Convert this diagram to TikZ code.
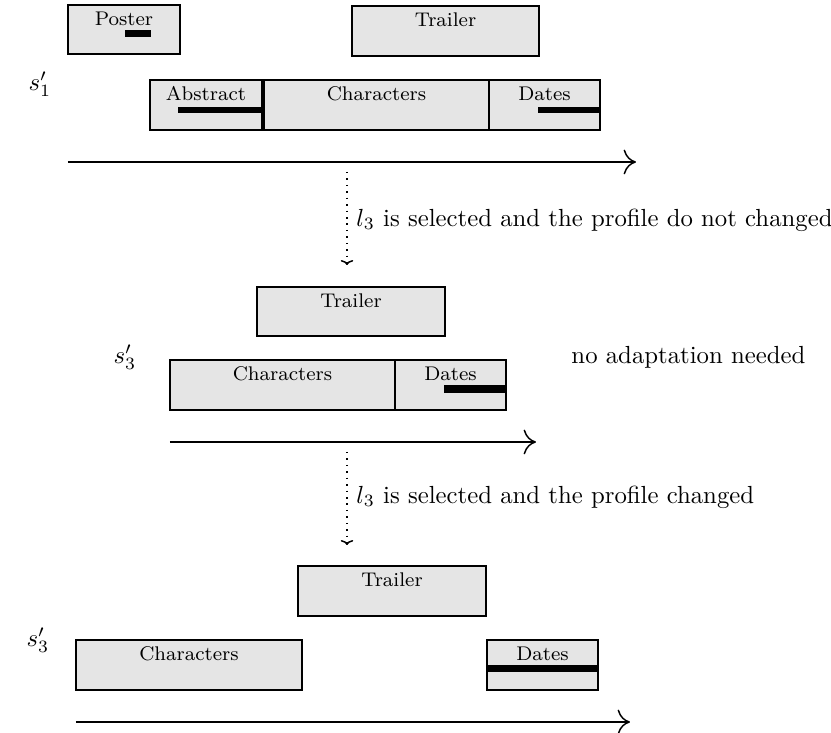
\documentclass[tikz,border=0pt]{standalone}
\usetikzlibrary{arrows.meta}
\newlength\pxu
\setlength\pxu{0.404pt}
\definecolor{boxfill}{gray}{0.9}
\tikzset{
  seg/.style={draw=black, thick, fill=boxfill, anchor=north west, inner sep=0pt, outer sep=0pt},
  lbl/.style={anchor=north, inner sep=2.5pt, font=\footnotesize},
  bar/.style={fill=black},
  axis/.style={semithick, -{To[length=5pt,width=10pt]}},
  step arrow/.style={dotted, semithick, -{To[length=2pt,width=5pt]}},
  note/.style={anchor=west, inner sep=0pt}
}
\begin{document}
\begin{tikzpicture}[x=\pxu, y=-\pxu]
\useasboundingbox (0,0) rectangle (831,733);

% ---------- top section ----------
\node[seg, minimum width=112\pxu, minimum height=49\pxu] (poster) at (68,5) {};
\node[lbl] (posterT) at (poster.north) {Poster};
\fill[bar] (125,30) rectangle (151,37);

\node[seg, minimum width=187\pxu, minimum height=50\pxu] (trailerA) at (352,6) {};
\node[lbl] (trailerAT) at (trailerA.north) {Trailer};

\node[seg, minimum width=112\pxu, minimum height=50\pxu] (abstract) at (150,80) {};
\node[lbl] (abstractT) at (abstract.north) {Abstract};
\node[seg, minimum width=225\pxu, minimum height=50\pxu] (charsA) at (264,80) {};
\node[lbl] (charsAT) at (charsA.north) {Characters};
\node[seg, minimum width=111\pxu, minimum height=50\pxu] (datesA) at (489,80) {};
\node[lbl] (datesAT) at (datesA.north) {Dates};
\fill[bar] (178,107) rectangle (262,113);
\fill[bar] (538,107) rectangle (600,113);

\node (s1) at (40,84) {$s'_1$};
\coordinate (axA0) at (68,162);
\coordinate (axA1) at (636,162);
\draw[axis] (axA0) -- (axA1);

\coordinate (d1a) at (347,172);
\coordinate (d1b) at (347,265);
\draw[step arrow] (d1a) -- (d1b);
\node[note] (n1) at (356,220) {$l_3$ is selected and the profile do not changed};

% ---------- middle section ----------
\node[seg, minimum width=188\pxu, minimum height=49\pxu] (trailerB) at (257,287) {};
\node[lbl] (trailerBT) at (trailerB.north) {Trailer};

\node[seg, minimum width=225\pxu, minimum height=50\pxu] (charsB) at (170,360) {};
\node[lbl] (charsBT) at (charsB.north) {Characters};
\node[seg, minimum width=111\pxu, minimum height=50\pxu] (datesB) at (395,360) {};
\node[lbl] (datesBT) at (datesB.north) {Dates};
\fill[bar] (444,385) rectangle (506,393);

\node (s3a) at (125,357) {$s'_3$};
\node[note] (n2) at (571,357) {no adaptation needed};
\coordinate (axB0) at (170,442);
\coordinate (axB1) at (536,442);
\draw[axis] (axB0) -- (axB1);

\coordinate (d2a) at (347,452);
\coordinate (d2b) at (347,545);
\draw[step arrow] (d2a) -- (d2b);
\node[note] (n3) at (356,497) {$l_3$ is selected and the profile changed};

% ---------- bottom section ----------
\node[seg, minimum width=188\pxu, minimum height=50\pxu] (trailerC) at (298,566) {};
\node[lbl] (trailerCT) at (trailerC.north) {Trailer};

\node[seg, minimum width=226\pxu, minimum height=50\pxu] (charsC) at (76,640) {};
\node[lbl] (charsCT) at (charsC.north) {Characters};
\node[seg, minimum width=111\pxu, minimum height=50\pxu] (datesC) at (487,640) {};
\node[lbl] (datesCT) at (datesC.north) {Dates};
\fill[bar] (487,665) rectangle (598,672);

\node (s3b) at (38,640) {$s'_3$};
\coordinate (axC0) at (76,722);
\coordinate (axC1) at (630,722);
\draw[axis] (axC0) -- (axC1);
\end{tikzpicture}
\end{document}
